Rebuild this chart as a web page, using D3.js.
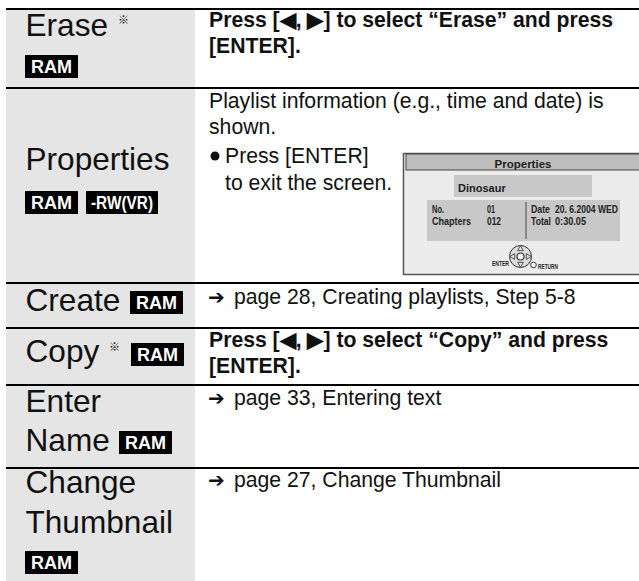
<!DOCTYPE html>
<html>
<head>
<meta charset="utf-8">
<script src="https://cdnjs.cloudflare.com/ajax/libs/d3/7.8.5/d3.min.js"></script>
<style>
html, body { margin: 0; padding: 0; background: #fff; }
svg { display: block; }
text { font-family: "Liberation Sans", Arial, sans-serif; fill: #111; }
</style>
</head>
<body>
<svg id="page" width="639" height="581"></svg>
<script>
// table content
var rowNames = ["Erase", "Properties", "Create", "Copy", "Enter Name", "Change Thumbnail"];
var labelLines = [["Erase"], ["Properties"], ["Create"], ["Copy"], ["Enter", "Name"], ["Change", "Thumbnail"]];
var noteMarks = ["※", "", "", "※", "", ""];
var discBadges = [["RAM"], ["RAM", "-RW(VR)"], ["RAM"], ["RAM"], ["RAM"], ["RAM"]];
var boldLines = ["Press [◀, ▶] to select “Erase” and press", "[ENTER].", "Press [◀, ▶] to select “Copy” and press", "[ENTER]."];
var plainLines = ["Playlist information (e.g., time and date) is", "shown.", "Press [ENTER]", "to exit the screen."];
var pageRefs = ["page 28, Creating playlists, Step 5-8", "page 33, Entering text", "page 27, Change Thumbnail"];
var screenLeft = [["No.", "01"], ["Chapters", "012"]];
var screenRight = [["Date", "20. 6.2004 WED"], ["Total", "0:30.05"]];

// layout of the page
var rowTop = d3.scaleOrdinal(rowNames, [9, 88, 283, 328, 385, 468]);
var rowEnd = d3.scaleOrdinal(rowNames, [88, 283, 328, 385, 468, 581]);
var labelBase = [[36], [170], [311], [362], [412, 451], [493, 533]];
var badgeSpots = [[[25, 55]], [[25, 191], [86, 191]], [[130, 291]], [[131, 343]], [[119, 431]], [[25, 551]]];
var markSpots = [[118, 24], null, null, [109, 351], null, null];
var left = 6, split = 195, right = 639, textX = 209;
var leftFit = [[12, 8], [39, 14]], rightFit = [[19, 63], [20, 31]];

var svg = d3.select("#page");

// grey label column
svg.selectAll("rect.band").data(rowNames).enter().append("rect")
    .attr("class", "band")
    .attr("x", left).attr("width", split - left)
    .attr("y", function (d) { return rowTop(d); })
    .attr("height", function (d) { return rowEnd(d) - rowTop(d); })
    .attr("fill", "#e5e5e5");

// row rules
svg.selectAll("line.rule").data(rowNames).enter().append("line")
    .attr("class", "rule")
    .attr("x1", left).attr("x2", right)
    .attr("y1", function (d) { return rowTop(d); })
    .attr("y2", function (d) { return rowTop(d); })
    .attr("stroke", "#000").attr("stroke-width", 2);

// row labels
labelLines.forEach(function (lines, i) {
    lines.forEach(function (t, j) {
        svg.append("text").attr("x", 25.5).attr("y", labelBase[i][j])
            .attr("font-size", 31.6).text(t);
    });
    if (noteMarks[i]) {
        svg.append("text").attr("x", markSpots[i][0]).attr("y", markSpots[i][1])
            .attr("font-size", 11).style("font-family", "'Noto Sans CJK JP'")
            .text(noteMarks[i]);
    }
    discBadges[i].forEach(function (b, j) {
        var w = b == "RAM" ? 53 : 72;
        var g = svg.append("g").attr("transform", "translate(" + badgeSpots[i][j][0] + "," + badgeSpots[i][j][1] + ")");
        g.append("rect").attr("width", w).attr("height", 23).attr("fill", "#000");
        var t = g.append("text").attr("x", w / 2).attr("y", 17.5).attr("text-anchor", "middle")
            .attr("font-size", 18).attr("font-weight", "bold")
            .style("fill", "#fff").text(b);
        if (b != "RAM") t.attr("textLength", 62).attr("lengthAdjust", "spacingAndGlyphs");
    });
});

// right hand column
function bodyText(x, y, t, bold) {
    return svg.append("text").attr("x", x).attr("y", y)
        .attr("font-size", 21.2)
        .attr("font-weight", bold ? "bold" : "normal").text(t);
}
[27, 53, 347, 373].forEach(function (y, i) { bodyText(textX, y, boldLines[i], true); });
var plainSpots = [[209, 108], [209, 134], [225, 163], [225, 190]];
plainSpots.forEach(function (p, i) { bodyText(p[0], p[1], plainLines[i], false); });
svg.append("circle").attr("cx", 215).attr("cy", 156).attr("r", 4.5).attr("fill", "#111");

[304, 405, 487].forEach(function (y, i) {
    svg.append("text").attr("x", textX - 1).attr("y", y).attr("font-size", 20)
        .attr("font-weight", "bold")
        .style("font-family", "'DejaVu Sans'").text("➔");
    bodyText(234, y, pageRefs[i], false);
});

// little screen picture
var scr = svg.append("g");
scr.append("rect").attr("x", 403.5).attr("y", 153.5).attr("width", 240).attr("height", 121)
    .attr("fill", "#ececec").attr("stroke", "#555").attr("stroke-width", 1.5);
scr.append("rect").attr("x", 406).attr("y", 154).attr("width", 240).attr("height", 16)
    .attr("fill", "#bdbdbd").attr("stroke", "#444").attr("stroke-width", 1);
scr.append("rect").attr("x", 454).attr("y", 175).attr("width", 138).attr("height", 22).attr("fill", "#c8c8c8");
scr.append("rect").attr("x", 427).attr("y", 200).attr("width", 193).attr("height", 41).attr("fill", "#c8c8c8");
scr.append("line").attr("x1", 526).attr("x2", 526).attr("y1", 202).attr("y2", 239)
    .attr("stroke", "#444").attr("stroke-width", 1);

function scrText(x, y, t, size) {
    return scr.append("text").attr("x", x).attr("y", y).attr("font-size", size || 11)
        .attr("font-weight", "bold").style("fill", "#222").text(t);
}
function fit(sel, w) { return sel.attr("textLength", w).attr("lengthAdjust", "spacingAndGlyphs"); }
scrText(523, 168, "Properties", 11.5).attr("text-anchor", "middle");
scrText(458, 192, "Dinosaur", 11);
screenLeft.forEach(function (r, i) {
    fit(scrText(432, 213 + i * 11.5, r[0]), leftFit[i][0]);
    fit(scrText(487, 213 + i * 11.5, r[1]), leftFit[i][1]);
});
screenRight.forEach(function (r, i) {
    fit(scrText(531, 213 + i * 11.5, r[0]), rightFit[i][0]);
    fit(scrText(555, 213 + i * 11.5, r[1]), rightFit[i][1]);
});

// enter / return pad
var pad = scr.append("g").attr("transform", "translate(520.5,256.5)");
pad.append("circle").attr("r", 11).attr("fill", "#ddd").attr("stroke", "#333");
pad.append("circle").attr("r", 3.5).attr("fill", "#fff").attr("stroke", "#333").attr("stroke-width", 1.2);
[0, 90, 180, 270].forEach(function (a) {
    pad.append("path").attr("d", d3.symbol(d3.symbolTriangle, 14))
        .attr("transform", "rotate(" + a + ") translate(0,-7.5)")
        .attr("fill", "none").attr("stroke", "#333").attr("stroke-width", 0.8);
});
scr.append("circle").attr("cx", 533.5).attr("cy", 265).attr("r", 2.8).attr("fill", "#fff").attr("stroke", "#333");
fit(scrText(492, 266, "ENTER", 7), 17);
fit(scrText(538, 269, "RETURN", 7), 20);
</script>
</body>
</html>
